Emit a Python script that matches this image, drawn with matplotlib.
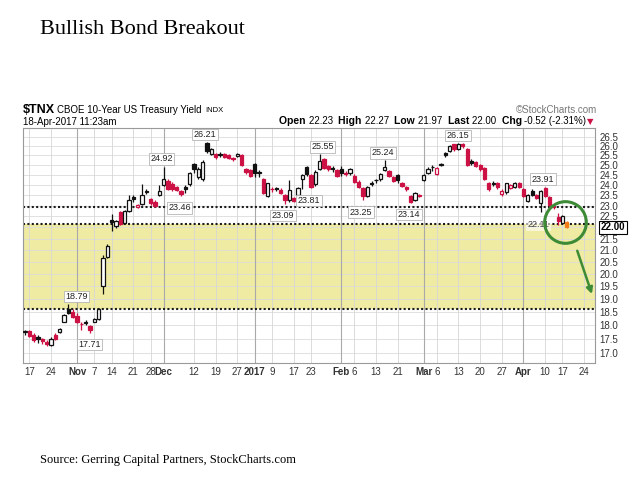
import matplotlib
matplotlib.use("Agg")
import matplotlib.pyplot as plt
from matplotlib.ticker import FixedLocator, FixedFormatter, NullLocator
import numpy as np
import pandas as pd

# trading days shown on the axis (chart leaves room up to end of April)
HOLIDAYS = ["2016-11-11", "2016-11-24", "2016-12-26", "2017-01-02",
            "2017-01-16", "2017-02-20", "2017-04-14"]
days = pd.bdate_range("2016-10-14", "2017-04-28")
days = days[~days.isin(pd.to_datetime(HOLIDAYS))]
pos = {d.strftime("%Y-%m-%d"): i for i, d in enumerate(days)}

opens = [17.75, 17.78, 17.65, 17.55, 17.48, 17.40, 17.28, 17.62, 17.75, 18.13,
         18.60, 18.50, 18.32, 18.05, 18.12, 17.97, 18.13, 18.22, 19.50, 20.70,
         22.35, 22.05, 22.72, 22.20, 22.75, 23.40, 22.95, 23.10, 23.72, 23.30,
         23.18, 23.52, 24.00, 24.20, 24.05, 23.88, 23.70, 23.90, 24.05, 25.05,
         24.40, 24.30, 26.15, 25.60, 25.60, 25.60, 25.55, 25.50, 25.38, 25.45,
         25.52, 24.80, 24.75, 25.05, 24.66, 24.30, 23.45, 23.82, 23.85, 23.75,
         23.50, 23.28, 23.35, 23.52, 24.28, 24.90, 24.50, 24.05, 24.80, 25.30,
         24.95, 24.85, 24.75, 24.80, 24.62, 24.60, 24.45, 24.15, 23.85, 23.45,
         24.10, 24.25, 24.28, 24.75, 24.68, 24.38, 24.50, 24.10, 23.90, 23.45,
         23.25, 23.50, 24.25, 24.62, 24.92, 24.55, 25.00, 25.65, 25.75, 26.08,
         25.82, 26.10, 25.85, 25.20, 25.15, 24.98, 24.85, 24.10, 24.12, 24.08,
         23.55, 23.65, 23.85, 23.90, 24.10, 23.80, 23.20, 23.70, 23.50, 23.12,
         23.85, 23.42, 22.98, 22.45, 22.20, 22.23]
highs = [17.82, 17.82, 17.70, 17.62, 17.52, 17.45, 17.55, 17.70, 17.90, 18.42,
         18.79, 18.60, 18.45, 18.12, 18.20, 18.00, 18.25, 18.65, 20.80, 21.25,
         22.60, 22.35, 22.75, 22.80, 23.52, 23.50, 23.10, 24.05, 23.80, 23.35,
         23.25, 24.00, 24.92, 24.30, 24.15, 23.95, 23.75, 24.00, 24.65, 25.10,
         24.90, 25.25, 26.21, 25.90, 25.65, 25.68, 25.65, 25.58, 25.42, 25.62,
         25.55, 24.85, 24.80, 25.10, 24.75, 24.35, 24.12, 23.90, 23.92, 23.85,
         23.55, 24.24, 23.40, 23.90, 24.55, 24.95, 24.55, 24.75, 25.55, 25.35,
         25.00, 24.95, 24.80, 24.95, 24.70, 24.85, 24.55, 24.25, 23.90, 23.95,
         24.18, 24.30, 24.62, 25.24, 24.75, 24.45, 24.55, 24.15, 23.95, 23.50,
         23.65, 23.55, 24.55, 24.90, 25.00, 24.90, 25.10, 25.70, 26.05, 26.12,
         26.15, 26.15, 25.90, 25.30, 25.20, 25.05, 24.90, 24.15, 24.20, 24.15,
         23.78, 24.12, 24.05, 24.15, 24.15, 23.85, 23.55, 23.78, 23.55, 23.75,
         23.91, 23.45, 23.02, 22.65, 22.55, 22.27]
lows = [17.62, 17.55, 17.40, 17.35, 17.30, 17.25, 17.25, 17.45, 17.72, 18.10,
        18.40, 18.25, 18.08, 17.80, 18.00, 17.71, 18.10, 18.20, 19.20, 20.65,
        21.85, 21.95, 22.10, 22.15, 22.70, 23.15, 22.90, 23.05, 23.55, 23.05,
        22.95, 23.45, 23.95, 23.75, 23.70, 23.70, 23.46, 23.60, 23.95, 24.60,
        24.30, 24.20, 25.65, 25.50, 25.30, 25.40, 25.35, 25.32, 25.22, 25.40,
        24.95, 24.55, 24.40, 24.40, 24.40, 23.55, 23.40, 23.65, 23.70, 23.55,
        23.09, 23.15, 23.15, 23.45, 23.81, 24.45, 23.85, 23.95, 24.75, 24.80,
        24.70, 24.65, 24.40, 24.45, 24.45, 24.50, 24.10, 23.84, 23.25, 23.40,
        23.95, 24.10, 24.20, 24.70, 24.40, 24.15, 24.10, 23.90, 23.70, 23.14,
        23.20, 23.40, 24.20, 24.55, 24.70, 24.50, 24.95, 25.40, 25.70, 25.75,
        25.80, 25.90, 24.95, 25.00, 24.88, 24.72, 24.22, 23.70, 23.95, 23.82,
        23.45, 23.55, 23.80, 23.85, 23.85, 23.40, 23.15, 23.45, 23.30, 22.72,
        23.40, 23.00, 22.85, 22.11, 22.15, 21.97]
closes = [17.78, 17.60, 17.45, 17.50, 17.42, 17.30, 17.50, 17.48, 17.85, 18.38,
          18.45, 18.30, 18.12, 18.02, 18.08, 17.80, 18.22, 18.60, 20.64, 21.15,
          22.25, 22.27, 22.15, 22.75, 23.28, 23.30, 23.02, 23.50, 23.65, 23.12,
          22.98, 23.70, 24.28, 23.80, 23.78, 23.75, 23.55, 23.80, 24.60, 24.78,
          24.80, 25.15, 25.75, 25.85, 25.40, 25.50, 25.42, 25.38, 25.30, 25.55,
          24.98, 24.65, 24.45, 24.60, 24.62, 23.62, 24.08, 23.78, 23.80, 23.60,
          23.28, 23.76, 23.22, 23.84, 24.49, 24.55, 23.90, 24.65, 25.22, 24.85,
          24.78, 24.80, 24.45, 24.60, 24.55, 24.78, 24.15, 23.88, 23.45, 23.88,
          24.05, 24.22, 24.57, 24.92, 24.45, 24.20, 24.22, 23.95, 23.78, 23.15,
          23.62, 23.48, 24.50, 24.78, 24.88, 24.85, 25.05, 25.50, 26.00, 25.82,
          26.08, 25.98, 25.00, 25.12, 24.95, 24.78, 24.28, 23.80, 24.05, 23.88,
          23.72, 24.10, 23.98, 24.08, 23.90, 23.48, 23.50, 23.52, 23.35, 23.72,
          23.45, 23.05, 22.92, 22.30, 22.52, 22.00]

# x-axis labels: (date, text, month label?)
xlabels = [("2016-10-17", "17", False), ("2016-10-24", "24", False), ("2016-11-01", "Nov", True),
           ("2016-11-07", "7", False), ("2016-11-14", "14", False), ("2016-11-21", "21", False),
           ("2016-11-28", "28", False), ("2016-12-01", "Dec", True), ("2016-12-12", "12", False),
           ("2016-12-19", "19", False), ("2016-12-27", "27", False), ("2017-01-03", "2017", True),
           ("2017-01-09", "9", False), ("2017-01-17", "17", False), ("2017-01-23", "23", False),
           ("2017-02-01", "Feb", True), ("2017-02-06", "6", False), ("2017-02-13", "13", False),
           ("2017-02-21", "21", False), ("2017-03-01", "Mar", True), ("2017-03-06", "6", False),
           ("2017-03-13", "13", False), ("2017-03-20", "20", False), ("2017-03-27", "27", False),
           ("2017-04-03", "Apr", True), ("2017-04-10", "10", False), ("2017-04-17", "17", False),
           ("2017-04-24", "24", False)]
yticks = list(np.arange(17.0, 26.51, 0.5))

resistance = 22.95
band_low, band_high = 18.60, 22.14

# peak / trough labels: (x position in trading days, value)
high_labels = [(11.8, 18.79), (31.5, 24.92), (41.5, 26.21), (68.7, 25.55),
               (82.6, 25.24), (99.9, 26.15), (119.5, 23.91)]
low_labels = [(14.8, 17.71), (35.7, 23.46), (59.5, 23.09), (65.5, 23.81),
              (77.5, 23.25), (88.6, 23.14)]
inline_label = (118.5, 22.11)

RED = "#cc1144"
BLACK = "#111111"
ORANGE = "#f07d1a"
GREEN = "#3d8b37"
SANS = ["Liberation Sans", "DejaVu Sans"]

plt.rcParams["font.family"] = SANS

fig = plt.figure(figsize=(6.4, 4.8), dpi=100, facecolor="white")
ax = fig.add_axes([23 / 640, 1 - 363 / 480, 572 / 640, 234.7 / 480])
ax.set_yscale("log")
ax.set_ylim(16.65, 26.96)
ax.set_xlim(-0.46, 131.5)

# grid
for v in yticks:
    ax.axhline(v, color="#dcdcdc", lw=0.6, zorder=1)
xt = [pos[d] for d, _, _ in xlabels]
for x, (_, _, month) in zip(xt, xlabels):
    ax.axvline(x, color="#a9a9a9" if month else "#d6d6d6", lw=0.8 if month else 0.6, zorder=1)

ax.axhspan(band_low, band_high, color="#efeba2", zorder=0.5, lw=0)
for v in (resistance, band_high, band_low):
    ax.axhline(v, color="#1c1c1c", lw=1.5, ls=(0, (1, 1.1)), zorder=2)

# candles
o = np.array(opens); h = np.array(highs); l = np.array(lows); c = np.array(closes)
n = len(c)
idx = np.arange(n)
prev = np.r_[o[0], c[:-1]]
for i in idx:
    col = BLACK if c[i] >= prev[i] else RED
    if i == n - 1:
        col = ORANGE
    hollow = c[i] > o[i] and i != n - 1
    ax.vlines(i, l[i], h[i], color=col, lw=0.9, zorder=3)
    lo, hi = min(o[i], c[i]), max(o[i], c[i])
    hi = max(hi, lo * 1.0015)
    ax.bar(i, hi - lo, bottom=lo, width=0.75, color="white" if hollow else col,
           edgecolor=col, lw=0.9, zorder=4)

lab_box = dict(boxstyle="square,pad=0.15", fc="white", ec="#b5b5b5", lw=0.6)
for x, v in high_labels:
    ax.annotate(f"{v:.2f}", (x, v), xytext=(0, 5.5), textcoords="offset points",
                ha="center", va="center", fontsize=6.5, color="#222", bbox=lab_box, zorder=5)
for x, v in low_labels:
    ax.annotate(f"{v:.2f}", (x, v), xytext=(0, -8.4), textcoords="offset points",
                ha="center", va="center", fontsize=6.5, color="#222", bbox=lab_box, zorder=5)
ax.annotate(f"{inline_label[1]:.2f}", inline_label, ha="center", va="center", fontsize=6.5,
            color="#444", bbox=dict(boxstyle="square,pad=0.15", fc="white", ec="none", alpha=0.6),
            zorder=2.5)

# highlight circle and arrow
ax.plot([n - 1.5], [22.26], marker="o", ms=30, mfc="none", mec=GREEN, mew=2.2,
        zorder=6, clip_on=False)
ax.annotate("", xy=(131.0, 19.08), xytext=(127.2, 21.08), annotation_clip=False,
            arrowprops=dict(arrowstyle="-|>", color=GREEN, lw=1.8, mutation_scale=9), zorder=6)

# axes styling
ax.yaxis.tick_right()
ax.yaxis.set_major_locator(FixedLocator(yticks))
ax.yaxis.set_major_formatter(FixedFormatter(["" if abs(v - 22.0) < 1e-6 else f"{v:.1f}" for v in yticks]))
ax.yaxis.set_minor_locator(NullLocator())
ax.tick_params(axis="y", length=0, labelsize=7, pad=3, colors="#333333")
ax.set_xticks(xt)
ax.set_xticklabels([t for _, t, _ in xlabels])
ax.tick_params(axis="x", length=0, labelsize=7, pad=3, colors="#333333")
for lab, (_, _, month) in zip(ax.get_xticklabels(), xlabels):
    if month:
        lab.set_fontweight("bold")
for s in ax.spines.values():
    s.set_edgecolor("#9a9a9a")
    s.set_linewidth(0.8)

ax.annotate(f"{c[-1]:.2f}", xy=(1.0, c[-1]), xycoords=("axes fraction", "data"),
            xytext=(4, 0), textcoords="offset points", ha="left", va="center",
            fontsize=7, fontweight="bold", color="black", annotation_clip=False,
            bbox=dict(boxstyle="square,pad=0.15", fc="white", ec="black", lw=0.8))

# header
fig.text(23 / 640, 1 - 110 / 480, "$TNX", fontsize=9, fontweight="bold", va="center")
fig.text(57 / 640, 1 - 110 / 480, "CBOE 10-Year US Treasury Yield", fontsize=7, va="center")
fig.text(205 / 640, 1 - 110 / 480, "INDX", fontsize=5.5, va="center")
fig.text(23 / 640, 1 - 122 / 480, "18-Apr-2017 11:23am", fontsize=7, va="center")
fig.text(597 / 640, 1 - 110 / 480, "\u00a9StockCharts.com", fontsize=7, color="#777777",
         ha="right", va="center")

chg = c[-1] - c[-2]
pieces = [("Open ", True, "black"), (f"{o[-1]:.2f}  ", False, "black"),
          ("High ", True, "black"), (f"{h[-1]:.2f}  ", False, "black"),
          ("Low ", True, "black"), (f"{l[-1]:.2f}  ", False, "black"),
          ("Last ", True, "black"), (f"{c[-1]:.2f}  ", False, "black"),
          ("Chg ", True, "black"), (f"{chg:.2f} ({chg / c[-2] * 100:.2f}%)", False, "black"),
          ("\u25bc", False, RED)]
anchor = fig.text(593 / 640, 1 - 126 / 480, pieces[-1][0], fontsize=6, color=pieces[-1][2],
                  ha="right", va="bottom", family=["DejaVu Sans"])
for txt, bold, col in reversed(pieces[:-1]):
    anchor = ax.annotate(txt, xy=(0, 0), xycoords=anchor, ha="right", va="bottom",
                         fontsize=7.5 if bold else 7, fontweight="bold" if bold else "normal",
                         color=col, annotation_clip=False)

fig.text(40 / 640, 1 - 30 / 480, "Bullish Bond Breakout", family="Liberation Serif",
         fontsize=16, va="center")
fig.text(40 / 640, 1 - 460 / 480, "Source: Gerring Capital Partners, StockCharts.com",
         family="Liberation Serif", fontsize=9, va="center")

fig.savefig("out.png", dpi=100, facecolor="white")
